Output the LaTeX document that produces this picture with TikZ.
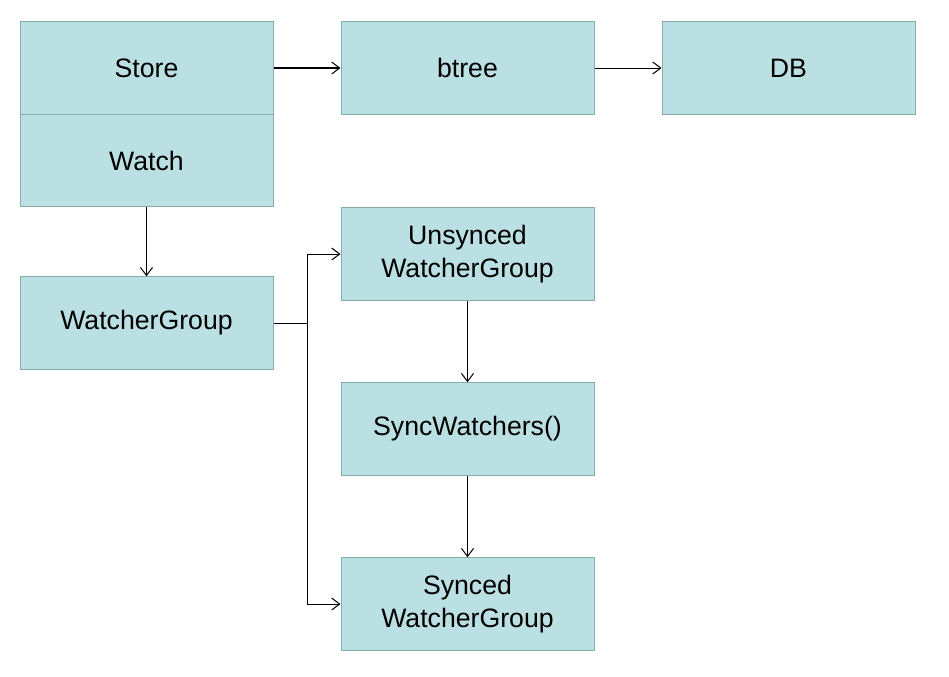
\documentclass[tikz,border=0pt]{standalone}
\usepackage{fontspec}
\setmainfont{Liberation Sans}
\usetikzlibrary{arrows.meta}
\definecolor{boxfill}{HTML}{BBE0E3}
\definecolor{boxline}{HTML}{88AAAD}
\begin{document}
\begin{tikzpicture}[x=0.75pt,y=-0.75pt,
  box/.style={draw=boxline,fill=boxfill,line width=0.75pt,minimum width=253*0.75pt,minimum height=92.5*0.75pt,inner sep=0pt,align=center,font=\fontsize{20}{24.5}\selectfont},
  conn/.style={draw=black,line width=0.75pt,-{Straight Barb[length=6pt,width=9pt,line width=0.75pt]}},
  plain/.style={draw=black,line width=0.75pt}]
\useasboundingbox (0,0) rectangle (949,676);
\node[box] (store) at (146.5,68) {Store};
\node[box] (watch) at (146.5,160.5) {Watch};
\node[box] (btree) at (467.5,68) {btree};
\node[box] (db) at (788.5,68) {DB};
\node[box] (wg) at (146.5,323) {WatcherGroup};
\node[box] (uwg) at (467.5,254) {Unsynced\\WatcherGroup};
\node[box] (sw) at (467.5,429) {SyncWatchers()};
\node[box] (swg) at (467.5,604) {Synced\\WatcherGroup};
\coordinate (j) at (307,323);
\draw[conn,line width=1.1pt] (store) -- (btree);
\draw[conn] (btree) -- (db);
\draw[conn] (watch) -- (wg);
\draw[plain] (wg) -- (j);
\draw[conn] (j) |- (uwg.west);
\draw[conn] (j) |- (swg.west);
\draw[conn] (uwg) -- (sw);
\draw[conn] (sw) -- (swg);
\end{tikzpicture}
\end{document}
